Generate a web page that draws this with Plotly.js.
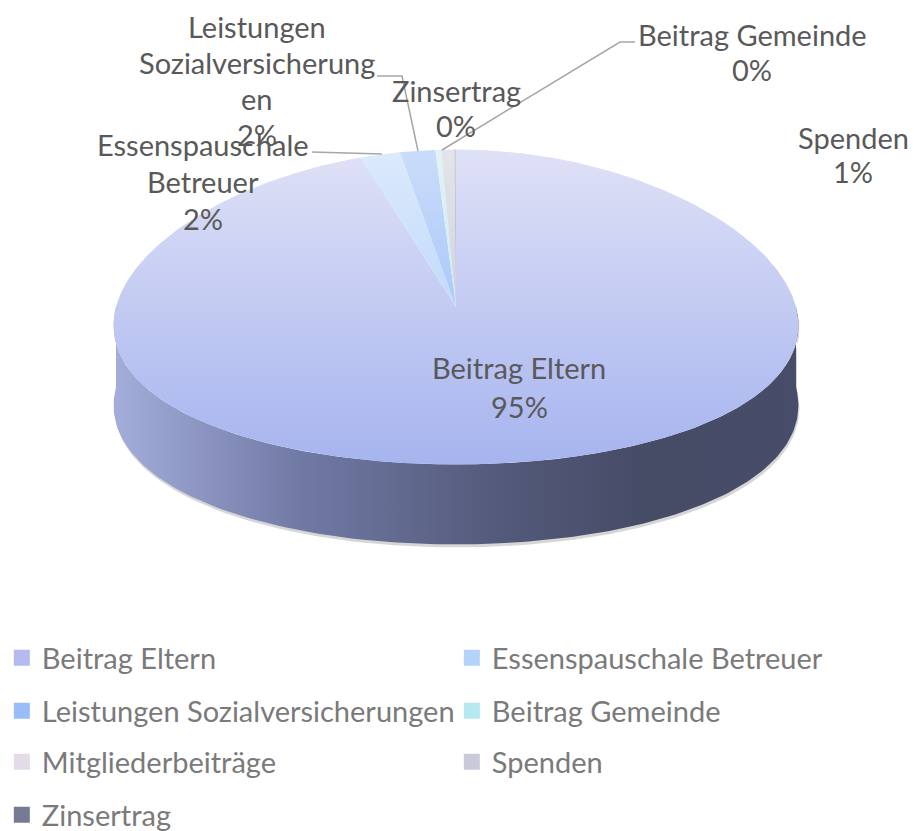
<!DOCTYPE html>
<html><head><meta charset="utf-8">
<script src="https://cdn.plot.ly/plotly-3.0.1.min.js"></script>
<style>html,body{margin:0;padding:0;background:#fff}</style>
</head><body><div id="chart" style="width:915px;height:831px"></div>
<script>
// ---- data ----
const categories = ['Beitrag Eltern','Essenspauschale Betreuer','Leistungen Sozialversicherungen','Beitrag Gemeinde','Mitgliederbeiträge','Spenden','Zinsertrag'];
const values = [94.9, 2.1, 1.9, 0.3, 0, 0.7, 0.1];
const showLabel = [true, true, true, true, false, true, true];

// ---- styles ----
const topColors = [
  ['#dfe1f6','#a6b4ef'],
  ['#dceafc','#a6c9f8'],
  ['#cadcfa','#8cb5f7'],
  ['#dff4f7','#aee3ee'],
  ['#f0e8f0','#d8cde0'],
  ['#e4e4ea','#bcbfd0'],
  ['#cfd1dc','#8a8fa6']
];
const legendColors = ['#b3bbf0','#b3d3fa','#98bdf8','#b6e8f1','#e4dae8','#c8cadb','#767b93'];
const FONT = 'Lato, "Open Sans", sans-serif';
const FSIZE = 29;

// geometry (pixel space)
const CX = 456, CY = 307, RX = 340, RY = 157.5, DEPTH = 80, P = 0.12;
function pt(deg, dy) {
  const t = deg * Math.PI / 180, s = Math.sin(t), c = Math.cos(t);
  return [CX + RX * s * (1 - P * c), CY - RY * c + (dy || 0)];
}

const total = values.reduce((a, b) => a + b, 0);
const traces = [];

// shadow + side wall (front part, belongs to first slice)
function sidePoly(ox, oy) {
  const xs = [], ys = [];
  for (let a = 90; a <= 270; a += 1) { const p = pt(a, 0); xs.push(p[0] + ox); ys.push(p[1] + oy); }
  for (let a = 270; a >= 90; a -= 1) { const p = pt(a, DEPTH); xs.push(p[0] + ox); ys.push(p[1] + oy); }
  return [xs, ys];
}
let sh = sidePoly(1, 3);
traces.push({x: sh[0], y: sh[1], mode: 'lines', fill: 'toself', fillcolor: 'rgba(0,0,0,0.16)',
  line: {width: 0, color: 'rgba(0,0,0,0)'}, showlegend: false, hoverinfo: 'skip'});
let sd = sidePoly(0, 0);
traces.push({x: sd[0], y: sd[1], mode: 'lines', fill: 'toself',
  fillgradient: {type: 'horizontal', start: 116, stop: 796,
    colorscale: [[0, '#a3add9'], [0.27, '#717aa5'], [0.56, '#535a7a'], [0.78, '#464b66'], [1, '#474c68']]},
  line: {width: 0, color: 'rgba(0,0,0,0)'}, showlegend: false, hoverinfo: 'skip'});

// top slices
let cum = 0;
values.forEach((v, i) => {
  const a0 = cum / total * 360; cum += v; const a1 = cum / total * 360;
  if (v <= 0) return;
  const xs = [CX], ys = [CY];
  const n = Math.max(4, Math.ceil((a1 - a0) / 0.5));
  for (let k = 0; k <= n; k++) { const p = pt(a0 + (a1 - a0) * k / n, 0); xs.push(p[0]); ys.push(p[1]); }
  xs.push(CX); ys.push(CY);
  traces.push({x: xs, y: ys, mode: 'lines', fill: 'toself', name: categories[i],
    fillgradient: {type: 'vertical', start: 150, stop: 465, colorscale: [[0, topColors[i][0]], [1, topColors[i][1]]]},
    line: {width: 0, color: 'rgba(0,0,0,0)'}, showlegend: false, hoverinfo: 'skip'});
});

// legend entries (2 per row)
const legendIds = ['legend', 'legend2', 'legend3', 'legend4'];
categories.forEach((c, i) => {
  traces.push({x: [null], y: [null], mode: 'markers', name: c,
    marker: {symbol: 'square', size: 16, color: legendColors[i]},
    legend: legendIds[Math.floor(i / 2)], showlegend: true, hoverinfo: 'skip'});
});

// data labels
function wrap(text, maxc) {
  const words = text.split(' '), lines = [];
  let cur = '';
  words.forEach(w => {
    let cand = cur ? cur + ' ' + w : w;
    if (cand.length <= maxc) { cur = cand; return; }
    if (cur) lines.push(cur);
    while (w.length > maxc) { lines.push(w.slice(0, maxc)); w = w.slice(maxc); }
    cur = w;
  });
  if (cur) lines.push(cur);
  return lines;
}
const labelPos = [
  {x: 519, y: 367, step: 39},
  {x: 203, y: 144, step: 37},
  {x: 257, y: 26, step: 36},
  {x: 752, y: 34, step: 35},
  null,
  {x: 853, y: 137, step: 34},
  {x: 456, y: 90, step: 35}
];
const annotations = [];
categories.forEach((c, i) => {
  if (!showLabel[i] || !labelPos[i]) return;
  const lines = wrap(c, 18);
  lines.push(Math.round(values[i] / total * 100) + '%');
  lines.forEach((t, k) => {
    annotations.push({x: labelPos[i].x, y: labelPos[i].y + k * labelPos[i].step, xref: 'x', yref: 'y',
      text: t, showarrow: false, xanchor: 'center', yanchor: 'middle',
      font: {family: FONT, size: FSIZE, color: '#595959'}});
  });
});

const leader = {color: '#a6a6a6', width: 1.5};
const shapes = [
  {type: 'path', xref: 'x', yref: 'y', path: 'M 312 152 L 382 154', line: leader},
  {type: 'path', xref: 'x', yref: 'y', path: 'M 377 76 L 402 76 L 418 151', line: leader},
  {type: 'path', xref: 'x', yref: 'y', path: 'M 635 42 L 620 42 L 442 150', line: leader}
];

function leg(y) {
  return {orientation: 'h', x: 0.002, xanchor: 'left', y: y, yanchor: 'middle',
    entrywidth: 405, entrywidthmode: 'pixels', itemwidth: 30, bgcolor: 'rgba(0,0,0,0)',
    font: {family: FONT, size: FSIZE, color: '#7a7a7a'}, traceorder: 'normal'};
}

const layout = {
  width: 915, height: 831, margin: {l: 0, r: 0, t: 0, b: 0, autoexpand: false},
  paper_bgcolor: '#ffffff', plot_bgcolor: '#ffffff',
  xaxis: {range: [0, 915], visible: false, fixedrange: true},
  yaxis: {range: [831, 0], visible: false, fixedrange: true},
  showlegend: true,
  legend: leg(1 - 658 / 831), legend2: leg(1 - 711 / 831), legend3: leg(1 - 762 / 831), legend4: leg(1 - 815 / 831),
  annotations: annotations, shapes: shapes
};
Plotly.newPlot('chart', traces, layout, {displayModeBar: false, staticPlot: true});
</script>
</body></html>
